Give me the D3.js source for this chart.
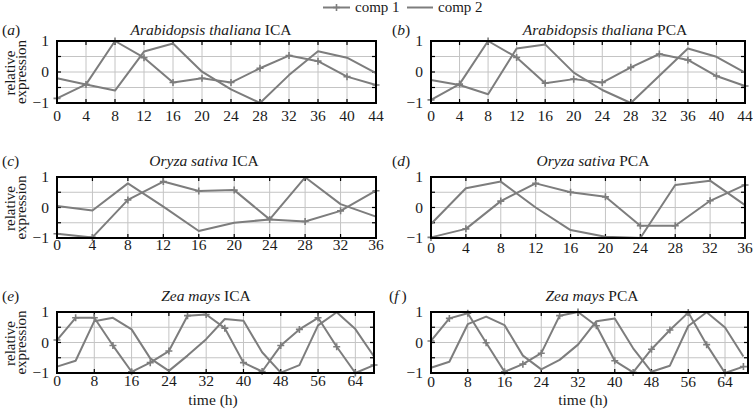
<!DOCTYPE html>
<html><head><meta charset="utf-8">
<script src="https://cdn.jsdelivr.net/npm/d3@7/dist/d3.min.js"></script>
<style>
body{margin:0;background:#fff}
svg{display:block}
</style>
</head><body>
<svg id="chart" width="753" height="409" font-family="'Liberation Serif', 'Times New Roman', Times, 'DejaVu Serif', serif"></svg>
<script>
// ---------- data ----------
const timeArab  = [0,4,8,12,16,20,24,28,32,36,40,44];
const timeOryza = [0,4,8,12,16,20,24,28,32,36];
const timeZea   = [0,4,8,12,16,20,24,28,32,36,40,44,48,52,56,60,64,68];

const ticksArab  = [0,4,8,12,16,20,24,28,32,36,40,44];
const ticksOryza = [0,4,8,12,16,20,24,28,32,36];
const ticksZea   = [0,8,16,24,32,40,48,56,64];
const yGridTicks = [-1,-0.5,0,0.5,1];
const yLabelTicks = [-1,0,1];

const seriesNames = ["comp 1","comp 2"];

// Arabidopsis thaliana
const arabIcaComp1 = [-0.85,-0.4,1.0,0.46,-0.34,-0.2,-0.34,0.12,0.53,0.35,-0.15,-0.42];
const arabIcaComp2 = [-0.2,-0.4,-0.6,0.66,0.92,0.01,-0.56,-1.0,-0.1,0.67,0.46,-0.04];
const arabPcaComp1 = [-0.9,-0.39,1.0,0.47,-0.36,-0.23,-0.34,0.15,0.58,0.39,-0.13,-0.45];
const arabPcaComp2 = [-0.26,-0.42,-0.72,0.76,0.89,-0.02,-0.58,-1.0,-0.12,0.76,0.49,-0.02];
// Oryza sativa
const oryzaIcaComp1 = [-0.86,-0.98,0.25,0.85,0.54,0.57,-0.39,-0.46,-0.11,0.55];
const oryzaIcaComp2 = [0.05,-0.1,0.79,0.03,-0.77,-0.5,-0.39,0.99,0.11,-0.3];
const oryzaPcaComp1 = [-0.98,-0.7,0.21,0.79,0.5,0.35,-0.6,-0.6,0.22,0.74];
const oryzaPcaComp2 = [-0.54,0.63,0.85,0.0,-0.74,-0.96,-1.0,0.74,0.88,0.08];
// Zea mays
const zeaIcaComp1 = [0.08,0.81,0.81,-0.1,-0.96,-0.66,-0.28,0.88,0.92,0.47,-0.66,-0.95,-0.1,0.43,0.81,-0.14,-1.0,-0.74];
const zeaIcaComp2 = [-0.79,-0.6,0.7,0.81,0.43,-0.52,-0.93,-0.43,0.11,0.77,0.71,-0.32,-0.99,-0.74,0.56,0.99,0.44,-0.46];
const zeaPcaComp1 = [0.05,0.79,0.96,-0.01,-0.96,-0.71,-0.35,0.88,1.0,0.55,-0.6,-0.98,-0.22,0.41,0.98,-0.07,-1.0,-0.79];
const zeaPcaComp2 = [-0.83,-0.63,0.6,0.85,0.57,-0.43,-0.88,-0.57,-0.07,0.7,0.79,-0.19,-0.96,-0.76,0.54,0.99,0.49,-0.46];

// ---------- layout ----------
const panels = [
  {lab:"a", sp:"Arabidopsis thaliana", m:"ICA", t:timeArab, c1:arabIcaComp1, c2:arabIcaComp2, ticks:ticksArab, xmax:44,
   x0:57, x1:376, y0:41, y1:103, tx:211, ty:35, lx:2, tickY:121, ylab:true, xlab:false},
  {lab:"b", sp:"Arabidopsis thaliana", m:"PCA", t:timeArab, c1:arabPcaComp1, c2:arabPcaComp2, ticks:ticksArab, xmax:44,
   x0:431, x1:745, y0:41, y1:103, tx:605, ty:35, lx:392, tickY:121, ylab:false, xlab:false},
  {lab:"c", sp:"Oryza sativa", m:"ICA", t:timeOryza, c1:oryzaIcaComp1, c2:oryzaIcaComp2, ticks:ticksOryza, xmax:36,
   x0:57, x1:376, y0:177, y1:238, tx:204, ty:166, lx:2, tickY:250, ylab:true, xlab:false},
  {lab:"d", sp:"Oryza sativa", m:"PCA", t:timeOryza, c1:oryzaPcaComp1, c2:oryzaPcaComp2, ticks:ticksOryza, xmax:36,
   x0:431, x1:745, y0:177, y1:238, tx:593, ty:166, lx:392, tickY:253, ylab:false, xlab:false},
  {lab:"e", sp:"Zea mays", m:"ICA", t:timeZea, c1:zeaIcaComp1, c2:zeaIcaComp2, ticks:ticksZea, xmax:68,
   x0:57, x1:374, y0:312, y1:373, tx:206, ty:301, lx:2, tickY:386, ylab:true, xlab:true, xlx:213},
  {lab:"f", sp:"Zea mays", m:"PCA", t:timeZea, c1:zeaPcaComp1, c2:zeaPcaComp2, ticks:ticksZea, xmax:69,
   x0:431, x1:748, y0:312, y1:373, tx:592, ty:301, lx:389, tickY:387, ylab:false, xlab:true, xlx:583}
];

const LINE = "#7d7d7d", GRID = "#c4c4c4", INK = "#1a1a1a";
const svg = d3.select("#chart");

function plus(g, x, y, s){
  g.append("path").attr("d", `M${x-s},${y}H${x+s}M${x},${y-s}V${y+s}`)
    .attr("stroke", LINE).attr("stroke-width", 1.6).attr("fill","none");
}

panels.forEach(p => {
  const x = d3.scaleLinear().domain([0, p.xmax]).range([p.x0, p.x1]);
  const y = d3.scaleLinear().domain([-1, 1]).range([p.y1, p.y0]);
  const g = svg.append("g");

  // grid
  g.selectAll(".gx").data(p.ticks.filter(d => d > 0 && d < p.xmax)).join("line")
    .attr("x1", d => x(d)).attr("x2", d => x(d)).attr("y1", p.y0).attr("y2", p.y1)
    .attr("stroke", GRID).attr("stroke-width", 1);
  g.selectAll(".gy").data(yGridTicks.filter(d => d > -1 && d < 1)).join("line")
    .attr("x1", p.x0).attr("x2", p.x1).attr("y1", d => y(d)).attr("y2", d => y(d))
    .attr("stroke", GRID).attr("stroke-width", 1);

  // inward ticks
  const tl = 4;
  p.ticks.forEach(d => {
    g.append("line").attr("x1", x(d)).attr("x2", x(d)).attr("y1", p.y1).attr("y2", p.y1 - tl).attr("stroke","#000").attr("stroke-width",1.2);
    g.append("line").attr("x1", x(d)).attr("x2", x(d)).attr("y1", p.y0).attr("y2", p.y0 + tl).attr("stroke","#000").attr("stroke-width",1.2);
  });
  yGridTicks.forEach(d => {
    g.append("line").attr("x1", p.x0).attr("x2", p.x0 + tl).attr("y1", y(d)).attr("y2", y(d)).attr("stroke","#000").attr("stroke-width",1.2);
    g.append("line").attr("x1", p.x1).attr("x2", p.x1 - tl).attr("y1", y(d)).attr("y2", y(d)).attr("stroke","#000").attr("stroke-width",1.2);
  });

  // lines
  const line = d3.line().x((d,i) => x(p.t[i])).y(d => y(d));
  g.append("path").datum(p.c2).attr("d", line).attr("fill","none").attr("stroke", LINE).attr("stroke-width", 2).attr("stroke-linejoin","round");
  g.append("path").datum(p.c1).attr("d", line).attr("fill","none").attr("stroke", LINE).attr("stroke-width", 2).attr("stroke-linejoin","round");
  p.c1.forEach((d,i) => plus(g, x(p.t[i]), y(d), 3.5));

  // frame
  g.append("rect").attr("x", p.x0).attr("y", p.y0).attr("width", p.x1 - p.x0).attr("height", p.y1 - p.y0)
    .attr("fill","none").attr("stroke","#000").attr("stroke-width", 2);

  // x tick labels
  g.selectAll(".xl").data(p.ticks).join("text")
    .attr("x", d => x(d)).attr("y", p.tickY).attr("text-anchor","middle").attr("fill", INK)
    .attr("font-size", 15.5).text(d => d);
  // y tick labels
  g.selectAll(".yl").data(yLabelTicks).join("text")
    .attr("x", p.x0 - 8).attr("y", d => y(d)).attr("dy", "0.35em").attr("text-anchor","end").attr("fill", INK)
    .attr("font-size", 15.5).text(d => d < 0 ? "\u2212" + Math.abs(d) : d);

  // title
  const t = g.append("text").attr("x", p.tx).attr("y", p.ty).attr("text-anchor","middle").attr("font-size", 15.5).attr("fill", INK);
  t.append("tspan").attr("font-style","italic").text(p.sp);
  t.append("tspan").text(" " + p.m);

  // panel label
  const l = g.append("text").attr("x", p.lx).attr("y", p.ty).attr("font-size", 15.5).attr("fill", INK);
  l.append("tspan").text("(");
  l.append("tspan").attr("font-style","italic").text(p.lab);
  l.append("tspan").text(p.lab === "f" ? "\u2009)" : ")");

  // y axis label
  if (p.ylab) {
    const cy = (p.y0 + p.y1) / 2;
    g.append("text").attr("transform", `translate(15,${cy + 1}) rotate(-90)`).attr("text-anchor","middle").attr("font-size", 15).attr("fill", INK).text("relative");
    g.append("text").attr("transform", `translate(25.5,${cy}) rotate(-90)`).attr("text-anchor","middle").attr("font-size", 15).attr("fill", INK).text("expression");
  }
  if (p.xlab) {
    g.append("text").attr("x", p.xlx).attr("y", 404.5).attr("text-anchor","middle").attr("font-size", 15.5).attr("fill", INK).text("time (h)");
  }
});

// legend
const lg = svg.append("g");
const legendItems = [{name: seriesNames[0], x0: 323, x1: 350, tx: 355, marker: true},
                     {name: seriesNames[1], x0: 407, x1: 433, tx: 438, marker: false}];
legendItems.forEach(it => {
  lg.append("line").attr("x1", it.x0).attr("x2", it.x1).attr("y1", 7.5).attr("y2", 7.5).attr("stroke", LINE).attr("stroke-width", 2);
  if (it.marker) plus(lg, (it.x0 + it.x1) / 2, 7.5, 3.5);
  lg.append("text").attr("x", it.tx).attr("y", 12).attr("font-size", 15).attr("fill", INK).text(it.name);
});
</script>
</body></html>
